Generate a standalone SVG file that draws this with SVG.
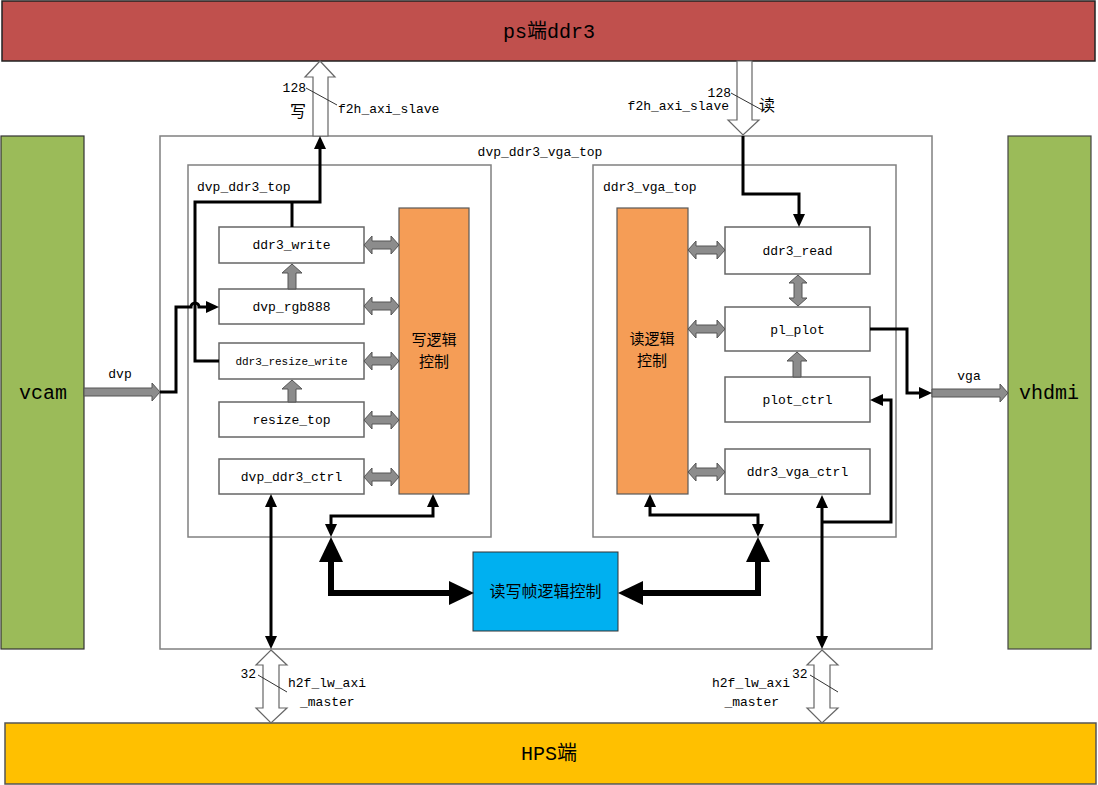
<svg xmlns="http://www.w3.org/2000/svg" width="1098" height="785" viewBox="0 0 1098 785">
<style>
text{font-family:"Liberation Mono","Noto Sans CJK SC",monospace;fill:#000}
.t13{font-size:13px}
.big{font-size:20px}
.cn{font-family:"Noto Sans CJK SC",sans-serif;font-size:16px}
.cn2{font-family:"Noto Sans CJK SC",sans-serif;font-size:15px}
.mod{fill:#fff;stroke:#666;stroke-width:1.5}
.cont{fill:#fff;stroke:#808080;stroke-width:1.5}
.orange{fill:#F59D56;stroke:#595959;stroke-width:1.2}
.garr{fill:#8C8C8C;stroke:#555;stroke-width:1}
.hol{fill:#fff;stroke:#666;stroke-width:1.2}
.blk{fill:none;stroke:#000;stroke-width:3}
.blkb{fill:none;stroke:#000;stroke-width:6}
.sl{stroke:#333;stroke-width:1}
</style>
<defs>
<marker id="a" markerUnits="userSpaceOnUse" markerWidth="20" markerHeight="20" refX="0" refY="0" orient="auto-start-reverse" overflow="visible"><path d="M0,-6 L13,0 L0,6 z" fill="#000"/></marker>
<marker id="b" markerUnits="userSpaceOnUse" markerWidth="30" markerHeight="30" refX="0" refY="0" orient="auto-start-reverse" overflow="visible"><path d="M0,-12 L25,0 L0,12 z" fill="#000"/></marker>
</defs>

<g id="ps_ddr3"><rect x="2" y="1" width="1093" height="60" fill="#C0504D" stroke="#222" stroke-width="1.5"/><text class="big" x="549" y="38" text-anchor="middle">ps端ddr3</text></g>
<g id="hps"><rect x="5" y="723" width="1091" height="61" fill="#FFC000" stroke="#555" stroke-width="1.5"/><text class="big" x="549" y="760" text-anchor="middle">HPS端</text></g>
<g id="vcam"><rect x="1" y="136" width="83" height="513" fill="#9BBB59" stroke="#333" stroke-width="1.2"/><text class="big" x="43" y="399" text-anchor="middle">vcam</text></g>
<g id="vhdmi"><rect x="1008" y="136" width="83" height="513" fill="#9BBB59" stroke="#444" stroke-width="1.2"/><text class="big" x="1049" y="399" text-anchor="middle">vhdmi</text></g>

<g id="dvp_ddr3_vga_top"><rect class="cont" x="160" y="136" width="772" height="513"/><text class="t13" x="540" y="156" text-anchor="middle">dvp_ddr3_vga_top</text></g>
<g id="dvp_ddr3_top"><rect class="cont" x="188" y="165" width="303" height="372"/><text class="t13" x="197" y="191">dvp_ddr3_top</text></g>
<g id="ddr3_vga_top"><rect class="cont" x="593" y="165" width="303" height="372"/><text class="t13" x="603" y="191">ddr3_vga_top</text></g>

<g id="ddr3_write"><rect class="mod" x="219" y="227" width="145" height="36"/><text class="t13" x="291.5" y="249" text-anchor="middle">ddr3_write</text></g>
<g id="dvp_rgb888"><rect class="mod" x="219" y="289" width="145" height="35"/><text class="t13" x="291.5" y="311" text-anchor="middle">dvp_rgb888</text></g>
<g id="ddr3_resize_write"><rect class="mod" x="219" y="343" width="145" height="36"/><text x="291.5" y="365" text-anchor="middle" font-size="11">ddr3_resize_write</text></g>
<g id="resize_top"><rect class="mod" x="219" y="402" width="145" height="35"/><text class="t13" x="291.5" y="424" text-anchor="middle">resize_top</text></g>
<g id="dvp_ddr3_ctrl"><rect class="mod" x="219" y="459" width="145" height="35"/><text class="t13" x="291.5" y="481" text-anchor="middle">dvp_ddr3_ctrl</text></g>
<g id="write_logic"><rect class="orange" x="399" y="208" width="70" height="286"/><text class="cn2" x="434" y="345" text-anchor="middle">写逻辑</text><text class="cn2" x="434" y="367" text-anchor="middle">控制</text></g>

<g id="ddr3_read"><rect class="mod" x="725" y="227" width="145" height="47"/><text class="t13" x="797.5" y="255" text-anchor="middle">ddr3_read</text></g>
<g id="pl_plot"><rect class="mod" x="725" y="307" width="145" height="44"/><text class="t13" x="797.5" y="334" text-anchor="middle">pl_plot</text></g>
<g id="plot_ctrl"><rect class="mod" x="725" y="377" width="145" height="45"/><text class="t13" x="797.5" y="404" text-anchor="middle">plot_ctrl</text></g>
<g id="ddr3_vga_ctrl"><rect class="mod" x="725" y="449" width="145" height="45"/><text class="t13" x="797.5" y="476" text-anchor="middle">ddr3_vga_ctrl</text></g>
<g id="read_logic"><rect class="orange" x="617" y="208" width="71" height="286"/><text class="cn2" x="652" y="344" text-anchor="middle">读逻辑</text><text class="cn2" x="652" y="366" text-anchor="middle">控制</text></g>

<g id="frame_logic"><rect x="473" y="552" width="145" height="79" fill="#00B0F0" stroke="#333" stroke-width="1"/><text class="cn" x="545.5" y="597" text-anchor="middle">读写帧逻辑控制</text></g>

<g id="connectors">
<polygon class="garr" points="364,245 372,236 372,241 391,241 391,236 399,245 391,254 391,249 372,249 372,254"/>
<polygon class="garr" points="364,306 372,297 372,302 391,302 391,297 399,306 391,315 391,310 372,310 372,315"/>
<polygon class="garr" points="364,361 372,352 372,357 391,357 391,352 399,361 391,370 391,365 372,365 372,370"/>
<polygon class="garr" points="364,420 372,411 372,416 391,416 391,411 399,420 391,429 391,424 372,424 372,429"/>
<polygon class="garr" points="364,477 372,468 372,473 391,473 391,468 399,477 391,486 391,481 372,481 372,486"/>
<polygon class="garr" points="688,250 696,241 696,246 717,246 717,241 725,250 717,259 717,254 696,254 696,259"/>
<polygon class="garr" points="688,329 696,320 696,325 717,325 717,320 725,329 717,338 717,333 696,333 696,338"/>
<polygon class="garr" points="688,472 696,463 696,468 717,468 717,463 725,472 717,481 717,476 696,476 696,481"/>
<polygon class="garr" points="292,264 302,273 296,273 296,289 288,289 288,273 282,273"/>
<polygon class="garr" points="292,380 302,389 296,389 296,402 288,402 288,389 282,389"/>
<polygon class="garr" points="797,352 807,361 801,361 801,377 793,377 793,361 787,361"/>
<polygon class="garr" points="798,275 807,283 802,283 802,298 807,298 798,306 789,298 794,298 794,283 789,283"/>
<polygon class="garr" points="84,388 152,388 152,383 160,392 152,401 152,396 84,396"/>
<polygon class="garr" points="932,389 1000,389 1000,384 1008,393 1000,402 1000,397 932,397"/>
<text class="t13" x="120" y="378" text-anchor="middle">dvp</text>
<text class="t13" x="969" y="380" text-anchor="middle">vga</text>
<polygon class="hol" points="320,61 335,77 328,77 328,136 313,136 313,77 305,77"/>
<polygon class="hol" points="737,61 752,61 752,120 759,120 743,135 728,120 737,120"/>
<polygon class="hol" points="271,650 287,665 279,665 279,708 287,708 271,723 256,708 263,708 263,665 256,665"/>
<polygon class="hol" points="822,650 838,665 830,665 830,708 838,708 822,723 807,708 814,708 814,665 807,665"/>
<line class="sl" x1="306" y1="88" x2="337" y2="105"/>
<line class="sl" x1="731" y1="93" x2="762" y2="110"/>
<line class="sl" x1="258" y1="675" x2="287" y2="692"/>
<line class="sl" x1="810" y1="675" x2="838" y2="692"/>
<text class="t13" x="306" y="92" text-anchor="end">128</text>
<text class="cn" x="298" y="117" text-anchor="middle" font-size="15">写</text>
<text class="t13" x="338" y="113">f2h_axi_slave</text>
<text class="t13" x="731" y="97" text-anchor="end">128</text>
<text class="t13" x="729" y="110" text-anchor="end">f2h_axi_slave</text>
<text class="cn" x="767" y="111" text-anchor="middle" font-size="15">读</text>
<text class="t13" x="256" y="678" text-anchor="end">32</text>
<text class="t13" x="288" y="687">h2f_lw_axi</text>
<text class="t13" x="300" y="706">_master</text>
<text class="t13" x="792" y="678">32</text>
<text class="t13" x="790" y="687" text-anchor="end">h2f_lw_axi</text>
<text class="t13" x="779" y="706" text-anchor="end">_master</text>
<path class="blk" d="M160,392 H176 V307 H191 A4,4 0 0 1 199,307 H206" marker-end="url(#a)"/>
<path class="blk" d="M219,361 H195 V202 H320 V149" marker-end="url(#a)"/>
<path class="blk" d="M292,227 V202"/>
<path class="blk" d="M743,136 V194 H799 V214" marker-end="url(#a)"/>
<path class="blk" d="M870,329 H907 V393 H919" marker-end="url(#a)"/>
<path class="blk" d="M822,508 V636" marker-start="url(#a)" marker-end="url(#a)"/>
<path class="blk" d="M822,522 H891 V400 H883" marker-end="url(#a)"/>
<path class="blk" d="M271,507 V636" marker-start="url(#a)" marker-end="url(#a)"/>
<path class="blk" d="M433,507 V516 H331 V524" marker-start="url(#a)" marker-end="url(#a)"/>
<path class="blk" d="M650,507 V515 H758 V524" marker-start="url(#a)" marker-end="url(#a)"/>
<path class="blkb" d="M331,562 V593 H449" marker-start="url(#b)" marker-end="url(#b)"/>
<path class="blkb" d="M758,562 V593 H643" marker-start="url(#b)" marker-end="url(#b)"/>
</g>
</svg>
